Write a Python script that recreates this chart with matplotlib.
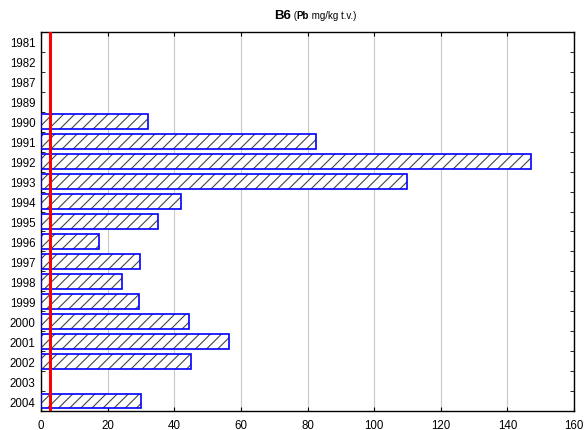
import numpy as np
import matplotlib.pyplot as plt

plt.rcParams['font.family'] = ['Liberation Sans', 'DejaVu Sans']
plt.rcParams['hatch.linewidth'] = 0.8

years = ['1981', '1982', '1987', '1989', '1990', '1991', '1992', '1993', '1994',
         '1995', '1996', '1997', '1998', '1999', '2000', '2001', '2002', '2003', '2004']
pb = [0, 0, 0, 0, 32, 82.5, 147, 110, 42, 35.2, 17.5, 29.8, 24.4, 29.5,
      44.3, 56.4, 45.1, 0, 30.1]
limit = 2.8

fig = plt.figure(figsize=(5.84, 4.31), dpi=100)
ax = fig.add_axes([0.0702, 0.0441, 0.9128, 0.8793])

pos = np.arange(len(years))
vals = np.array(pb)
has = vals > 0
# hatch first (gray), then blue outline on top
ax.barh(pos[has], vals[has], height=0.75, color='white', edgecolor='#444444',
        hatch='///', linewidth=0, zorder=2)
ax.barh(pos[has], vals[has], height=0.75, fill=False, edgecolor='#0000ff',
        linewidth=1.2, zorder=3)
ax.axvline(limit, color='#ff0000', linewidth=2.2, zorder=4)

ax.set_xlim(0, 160)
ax.set_ylim(len(years) - 0.5, -0.5)
ax.set_xticks(np.arange(0, 161, 20))
ax.set_yticks(pos)
ax.set_yticklabels(years)
ax.set_yticks(np.arange(-0.5, len(years), 1), minor=True)
ax.grid(axis='x', color='#c8c8c8', linewidth=0.8, zorder=0)
ax.set_axisbelow(True)
ax.tick_params(axis='y', which='major', length=0, labelsize=8.3, pad=4)
ax.tick_params(axis='y', which='minor', direction='in', length=3, left=True, right=True)
ax.tick_params(axis='x', direction='in', length=3, top=True, labelsize=8.3, pad=6)
for s in ax.spines.values():
    s.set_linewidth(1.0)

# title made of pieces
fig.canvas.draw()
r = fig.canvas.get_renderer()
parts = [('B6', 9.5, 'bold'), (' (', 7, 'normal'), ('Pb', 7, 'bold'),
         (' mg/kg t.v.)', 7, 'normal')]
texts = []
for s, fs, fw in parts:
    t = fig.text(0, 0.955, s, fontsize=fs, fontweight=fw, va='baseline')
    texts.append(t)
widths = [t.get_window_extent(r).width for t in texts]
x = 0.5 * 584 + 23 - sum(widths) / 2
for t, w in zip(texts, widths):
    t.set_x(x / 584)
    x += w

fig.savefig('out.png', dpi=100)
